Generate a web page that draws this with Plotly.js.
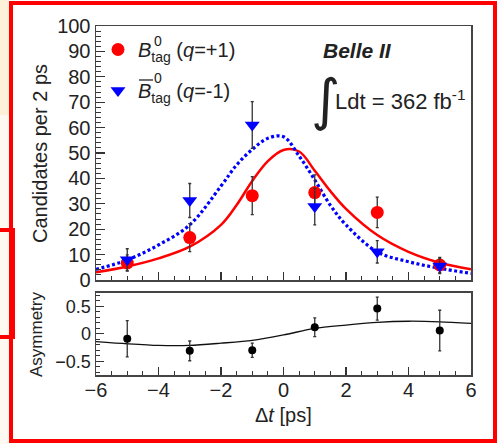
<!DOCTYPE html>
<html><head><meta charset="utf-8">
<script src="https://cdn.plot.ly/plotly-3.0.1.min.js"></script>
<style>
html,body{margin:0;padding:0;background:#fff;}
#wrap{position:relative;width:500px;height:444px;overflow:hidden;}
#plot{position:absolute;left:0;top:0;width:500px;height:444px;}
.ov{position:absolute;pointer-events:none;}
</style></head><body>
<div id="wrap">
<div id="plot"></div>
<div class="ov" style="left:0;top:0;width:9px;height:115px;background:#fdf1d9;"></div>
<div class="ov" style="left:0;top:115px;width:9px;height:329px;background:#fefaf2;"></div>
<div class="ov" style="left:0;top:228px;width:11px;height:103px;border:4px solid #f00;border-left:none;"></div>
<div class="ov" style="left:9px;top:1px;width:480px;height:434px;border:4px solid #f00;"></div>
</div>
<script>
// ---- data ----
const dtBins = [-5, -3, -1, 1, 3, 5];
const b0Counts = [6.7, 16.7, 33.2, 34.4, 26.6, 5.9];
const b0Errors = [3.2, 5.5, 7.5, 7.0, 6.0, 3.0];
const b0barCounts = [8.0, 31.3, 61.0, 28.9, 11.1, 5.5];
const b0barErrors = [4.3, 6.7, 9.2, 7.2, 4.4, 3.0];

const asymValues = [-0.09, -0.31, -0.30, 0.12, 0.46, 0.06];
const asymErrors = [0.33, 0.18, 0.13, 0.17, 0.21, 0.37];

const curveDt = [-6, -5, -4, -3, -2, -1.5, -1, -0.5, 0, 0.5, 1, 1.5, 2, 3, 4, 5, 6];
const b0Curve = [3.0, 5.3, 8.5, 13.1, 21.7, 29.5, 39.0, 46.8, 51.2, 50.6, 43.0, 35.0, 28.0, 17.7, 11.1, 6.8, 4.2];
const b0barCurve = [4.2, 7.9, 13.8, 21.7, 37.0, 45.3, 51.4, 55.8, 56.4, 48.8, 39.4, 29.4, 21.7, 11.1, 7.2, 4.6, 2.6];

const asymCurveDt = [-6, -5, -4, -3, -2, -1, 0, 1, 2, 3, 4, 5, 6];
const asymCurve = [-0.14, -0.18, -0.21, -0.21, -0.17, -0.12, -0.02, 0.10, 0.16, 0.21, 0.23, 0.22, 0.19];

const mainTickVals = [0, 10, 20, 30, 40, 50, 60, 70, 80, 90, 100];
const asymTickVals = [-0.5, 0, 0.5];
const asymTickText = ['\u22120.5', '0', '0.5'];
const xTickVals = [-6, -4, -2, 0, 2, 4, 6];
const xTickText = ['\u22126', '\u22124', '\u22122', '0', '2', '4', '6'];

// ---- geometry helpers (pixel -> paper) ----
const L = 96, R = 471, T = 26, B = 375;
const px = x => (x - L) / (R - L);
const py = y => (B - y) / (B - T);

const FONT = 'Liberation Sans, Arial, Helvetica, sans-serif';
const RED = '#ff0000', BLUE = '#0000ff', INK = '#222';

const errStyle = {type: 'data', visible: true, color: '#333', thickness: 1.3, width: 1.5};

const traces = [
  {x: curveDt, y: b0Curve, mode: 'lines', line: {color: RED, width: 2.5, shape: 'spline', smoothing: 1},
   xaxis: 'x', yaxis: 'y', showlegend: false, hoverinfo: 'skip'},
  {x: curveDt, y: b0barCurve, mode: 'lines', line: {color: BLUE, width: 3.2, shape: 'spline', smoothing: 1, dash: '3px,2.5px'},
   xaxis: 'x', yaxis: 'y', showlegend: false, hoverinfo: 'skip'},
  {x: dtBins, y: b0Counts, mode: 'markers', name: '<i>B</i><sub>tag</sub> (<i>q</i>=+1)',
   marker: {color: RED, size: 13, symbol: 'circle'},
   error_y: Object.assign({array: b0Errors}, errStyle),
   xaxis: 'x', yaxis: 'y', legendgroup: 'a'},
  {x: dtBins, y: b0barCounts, mode: 'markers', name: '<i>B</i><sub>tag</sub> (<i>q</i>=-1)',
   marker: {color: BLUE, size: 13, symbol: 'triangle-down'},
   error_y: Object.assign({array: b0barErrors}, errStyle),
   xaxis: 'x', yaxis: 'y', legendgroup: 'b'},
  {x: asymCurveDt, y: asymCurve, mode: 'lines', line: {color: '#111', width: 1.3, shape: 'spline', smoothing: 0.8},
   xaxis: 'x2', yaxis: 'y2', showlegend: false, hoverinfo: 'skip'},
  {x: dtBins, y: asymValues, mode: 'markers', marker: {color: '#000', size: 8},
   error_y: Object.assign({array: asymErrors}, errStyle),
   xaxis: 'x2', yaxis: 'y2', showlegend: false}
];

const frame = {showline: true, mirror: true, linecolor: '#444', linewidth: 1.5,
  showgrid: false, zeroline: false, ticks: 'inside', tickcolor: '#333', tickwidth: 1.2};

const layout = {
  width: 500, height: 444,
  margin: {l: L, r: 500 - R, t: T, b: 444 - B, pad: 0},
  paper_bgcolor: '#fff', plot_bgcolor: '#fff',
  font: {family: FONT, color: INK, size: 20},
  showlegend: true,
  legend: {x: px(98), y: py(30), xanchor: 'left', yanchor: 'top',
    bgcolor: 'rgba(0,0,0,0)', font: {size: 20, family: FONT, color: INK},
    traceorder: 'grouped', tracegroupgap: 12, itemwidth: 30},
  xaxis: Object.assign({}, frame, {domain: [0, 1], anchor: 'y', range: [-6, 6],
    tickvals: xTickVals, showticklabels: false, ticklen: 8,
    minor: {dtick: 0.5, ticklen: 4, ticks: 'inside', tickcolor: '#333', tickwidth: 1}}),
  yaxis: Object.assign({}, frame, {domain: [py(280), 1], anchor: 'x', range: [0, 100],
    tickvals: mainTickVals, ticklen: 9, tickfont: {size: 20},
    minor: {dtick: 2, ticklen: 4.5, ticks: 'inside', tickcolor: '#333', tickwidth: 1}}),
  xaxis2: Object.assign({}, frame, {domain: [0, 1], anchor: 'y2', range: [-6, 6],
    tickvals: xTickVals, ticktext: xTickText, ticklen: 8, tickfont: {size: 20}, ticklabelstandoff: -4,
    minor: {dtick: 0.5, ticklen: 4, ticks: 'inside', tickcolor: '#333', tickwidth: 1}}),
  yaxis2: Object.assign({}, frame, {domain: [0, py(292.7)], anchor: 'x2', range: [-0.75, 0.75],
    tickvals: asymTickVals, ticktext: asymTickText, ticklen: 8, tickfont: {size: 18},
    minor: {dtick: 0.1, ticklen: 4, ticks: 'inside', tickcolor: '#333', tickwidth: 1}}),
  annotations: [
    {text: 'Candidates per 2 ps', xref: 'paper', yref: 'paper', x: px(40), y: py(153),
     textangle: -90, showarrow: false, xanchor: 'center', yanchor: 'middle', font: {size: 20}},
    {text: 'Asymmetry', xref: 'paper', yref: 'paper', x: px(36), y: py(334),
     textangle: -90, showarrow: false, xanchor: 'center', yanchor: 'middle', font: {size: 17}},
    {text: '\u0394<i>t</i> [ps]', xref: 'paper', yref: 'paper', x: px(283), y: py(415),
     showarrow: false, xanchor: 'center', yanchor: 'middle', font: {size: 20}},
    {text: '<b><i>Belle II</i></b>', xref: 'paper', yref: 'paper', x: px(357), y: py(51),
     showarrow: false, xanchor: 'center', yanchor: 'middle', font: {size: 21}},
    {text: '\u222B', xref: 'paper', yref: 'paper', x: px(325), y: py(99),
     showarrow: false, xanchor: 'center', yanchor: 'middle', font: {size: 56, family: 'DejaVu Sans'}},
    {text: 'Ldt = 362 fb<sup>-1</sup>', xref: 'paper', yref: 'paper', x: px(333), y: py(100),
     showarrow: false, xanchor: 'left', yanchor: 'middle', font: {size: 22}},
    {text: '0', xref: 'paper', yref: 'paper', x: px(158), y: py(41),
     showarrow: false, xanchor: 'center', yanchor: 'middle', font: {size: 14}},
    {text: '0', xref: 'paper', yref: 'paper', x: px(158), y: py(78),
     showarrow: false, xanchor: 'center', yanchor: 'middle', font: {size: 14}}
  ],
  shapes: [
    {type: 'line', xref: 'paper', yref: 'paper', x0: px(139), x1: px(153), y0: py(80), y1: py(80),
     line: {color: INK, width: 1.3}}
  ]
};

Plotly.newPlot('plot', traces, layout, {staticPlot: true, displayModeBar: false});
</script>
</body></html>
